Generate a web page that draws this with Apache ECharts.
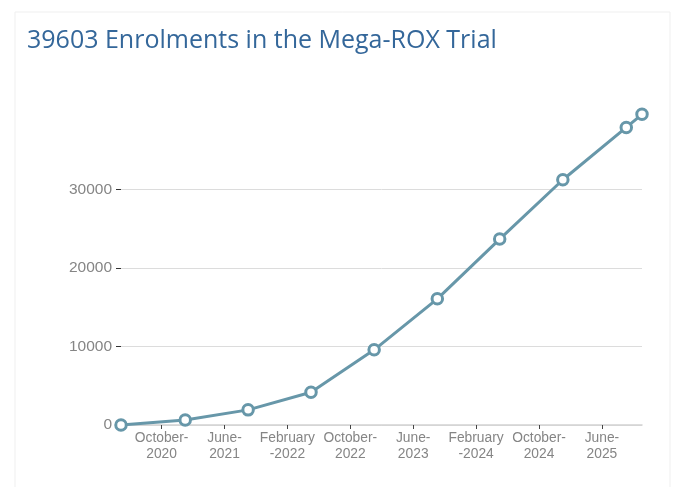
<!DOCTYPE html>
<html>
<head>
<meta charset="utf-8">
<script src="https://cdn.jsdelivr.net/npm/echarts@6/dist/echarts.min.js"></script>
<style>
html,body{margin:0;padding:0;background:#fff;}
#chart{width:680px;height:487px;}
</style>
</head>
<body>
<div id="chart"></div>
<script>
// Data
const dates = ['2020-04-26','2021-01-01','2021-09-01','2022-05-01','2023-01-02','2023-09-03','2024-05-01','2025-01-02','2025-09-04','2025-11-04'];
const enrolments = [0, 650, 1930, 4180, 9580, 16080, 23700, 31260, 37930, 39603];
const tickDates = ['2020-10-01','2021-06-01','2022-02-01','2022-10-01','2023-06-01','2024-02-01','2024-10-01','2025-06-01'];
const tickLabels = ['October-\n2020','June-\n2021','February\n-2022','October-\n2022','June-\n2023','February\n-2024','October-\n2024','June-\n2025'];
const yTicks = [0, 10000, 20000, 30000];
const titleText = '39603 Enrolments in the Mega-ROX Trial';

// convert a date to fractional months since Jan 2020 (time position on the axis)
function monthPos(s){
  const p = s.split('-').map(Number);
  const dim = new Date(Date.UTC(p[0], p[1], 0)).getUTCDate();
  return (p[0]-2020)*12 + (p[1]-1) + (p[2]-1)/dim;
}
const xs = dates.map(monthPos);
const tickPos = tickDates.map(monthPos);
const seriesData = xs.map((x,i)=>[x, enrolments[i]]);

const chart = echarts.init(document.getElementById('chart'), null, {renderer:'canvas'});
const lineColor = '#6797a9';
chart.setOption({
  animation:false,
  backgroundColor:'#fff',
  graphic:[{
    type:'rect', left:12.5, top:9.5, shape:{x:0,y:0,width:655,height:520},
    style:{fill:'none', stroke:'#efefef', lineWidth:1}, silent:true, z:-10
  }],
  title:{
    text:titleText, left:22, top:23,
    textStyle:{fontFamily:'Open Sans', fontSize:25, fontWeight:'normal', color:'#34679a'}
  },
  grid:{left:121, right:38, top:114.3, bottom:62, containLabel:false, outerBoundsMode:'none'},
  xAxis:{
    type:'value', min:'dataMin', max:'dataMax',
    axisLine:{show:true, lineStyle:{color:'#d2d2d2', width:1.5}},
    axisTick:{show:true, length:4, lineStyle:{color:'#444', width:1}, customValues:tickPos},
    axisLabel:{
      customValues:tickPos, margin:5, color:'#858585', fontSize:13.8, lineHeight:16,
      fontFamily:'Liberation Sans, Arial, sans-serif',
      formatter:function(v){
        let best=0;
        for(let i=0;i<tickPos.length;i++){ if(Math.abs(tickPos[i]-v)<Math.abs(tickPos[best]-v)) best=i; }
        return tickLabels[best];
      }
    },
    splitLine:{show:false}
  },
  yAxis:{
    type:'value', min:0, max:'dataMax',
    axisLine:{show:false},
    axisTick:{show:true, length:5, lineStyle:{color:'#333', width:1}, customValues:yTicks},
    axisLabel:{customValues:yTicks, margin:9, color:'#858585', fontSize:15.5,
      fontFamily:'Liberation Sans, Arial, sans-serif',
      formatter:function(v){ return String(v); }},
    splitLine:{show:true, lineStyle:{color:'#dcdcdc', width:1}}
  },
  series:[{
    type:'line', data:seriesData, clip:false,
    symbol:'circle', symbolSize:10.5, showAllSymbol:true,
    lineStyle:{color:lineColor, width:3},
    itemStyle:{color:'#fff', borderColor:lineColor, borderWidth:3},
    z:3
  }]
});
</script>
</body>
</html>
